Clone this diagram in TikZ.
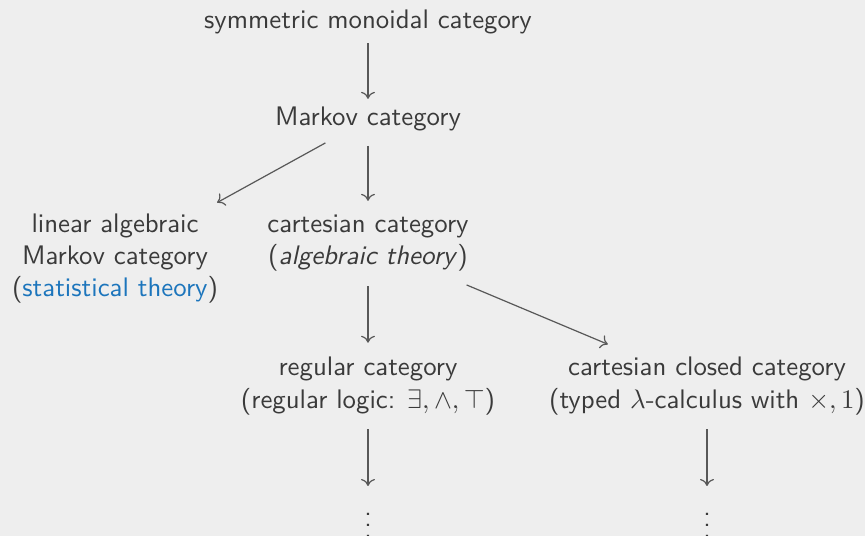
\documentclass[tikz,border=0pt]{standalone}
\usetikzlibrary{arrows.meta}
\definecolor{bg}{RGB}{238,238,238}
\definecolor{ink}{RGB}{58,58,58}
\definecolor{wire}{RGB}{88,88,88}
\definecolor{stat}{RGB}{28,117,188}
\tikzset{
  lbl/.style={font=\sffamily, text=ink, align=center, inner sep=3pt, anchor=base},
  arr/.style={draw=wire, line width=0.45pt, shorten <=2.2pt, shorten >=2.2pt,
    -{Computer Modern Rightarrow[length=2.6pt,width=5.2pt]}},
}
\begin{document}
\begin{tikzpicture}[x=0.373pt, y=-0.373pt]
  \fill[bg] (0,0) rectangle (865,536);
  \useasboundingbox (0,0) rectangle (865,536);

  % multi-line nodes are placed by the baseline of their last line
  \node[lbl] (sym)    at (368,29)  {symmetric monoidal category};
  \node[lbl] (markov) at (368,126) {Markov category};
  \node[lbl] (linear) at (115,297) {linear algebraic\\Markov category\\(\textcolor{stat}{statistical theory})};
  \node[lbl] (cart)   at (368,265) {cartesian category\\(\textit{algebraic theory})};
  \node[lbl] (reg)    at (368,408) {regular category\\(regular logic: $\exists,\wedge,\top$)};
  \node[lbl] (ccc)    at (707,408) {cartesian closed category\\(typed $\lambda$-calculus with $\times,1$)};
  \node[lbl] (regdots) at (368,537) {$\vdots$};
  \node[lbl] (cccdots) at (707,537) {$\vdots$};

  \draw[arr, shorten <=0pt, shorten >=0pt] (sym) -- (markov);
  \draw[arr] (markov) -- (linear);
  \draw[arr] (markov) -- (cart);
  \draw[arr] (cart) -- (reg);
  \draw[arr, shorten <=4.5pt, shorten >=4.2pt] (cart) -- (ccc);
  \draw[arr, shorten >=1pt] (reg) -- (regdots);
  \draw[arr, shorten >=1pt] (ccc) -- (cccdots);
\end{tikzpicture}
\end{document}
